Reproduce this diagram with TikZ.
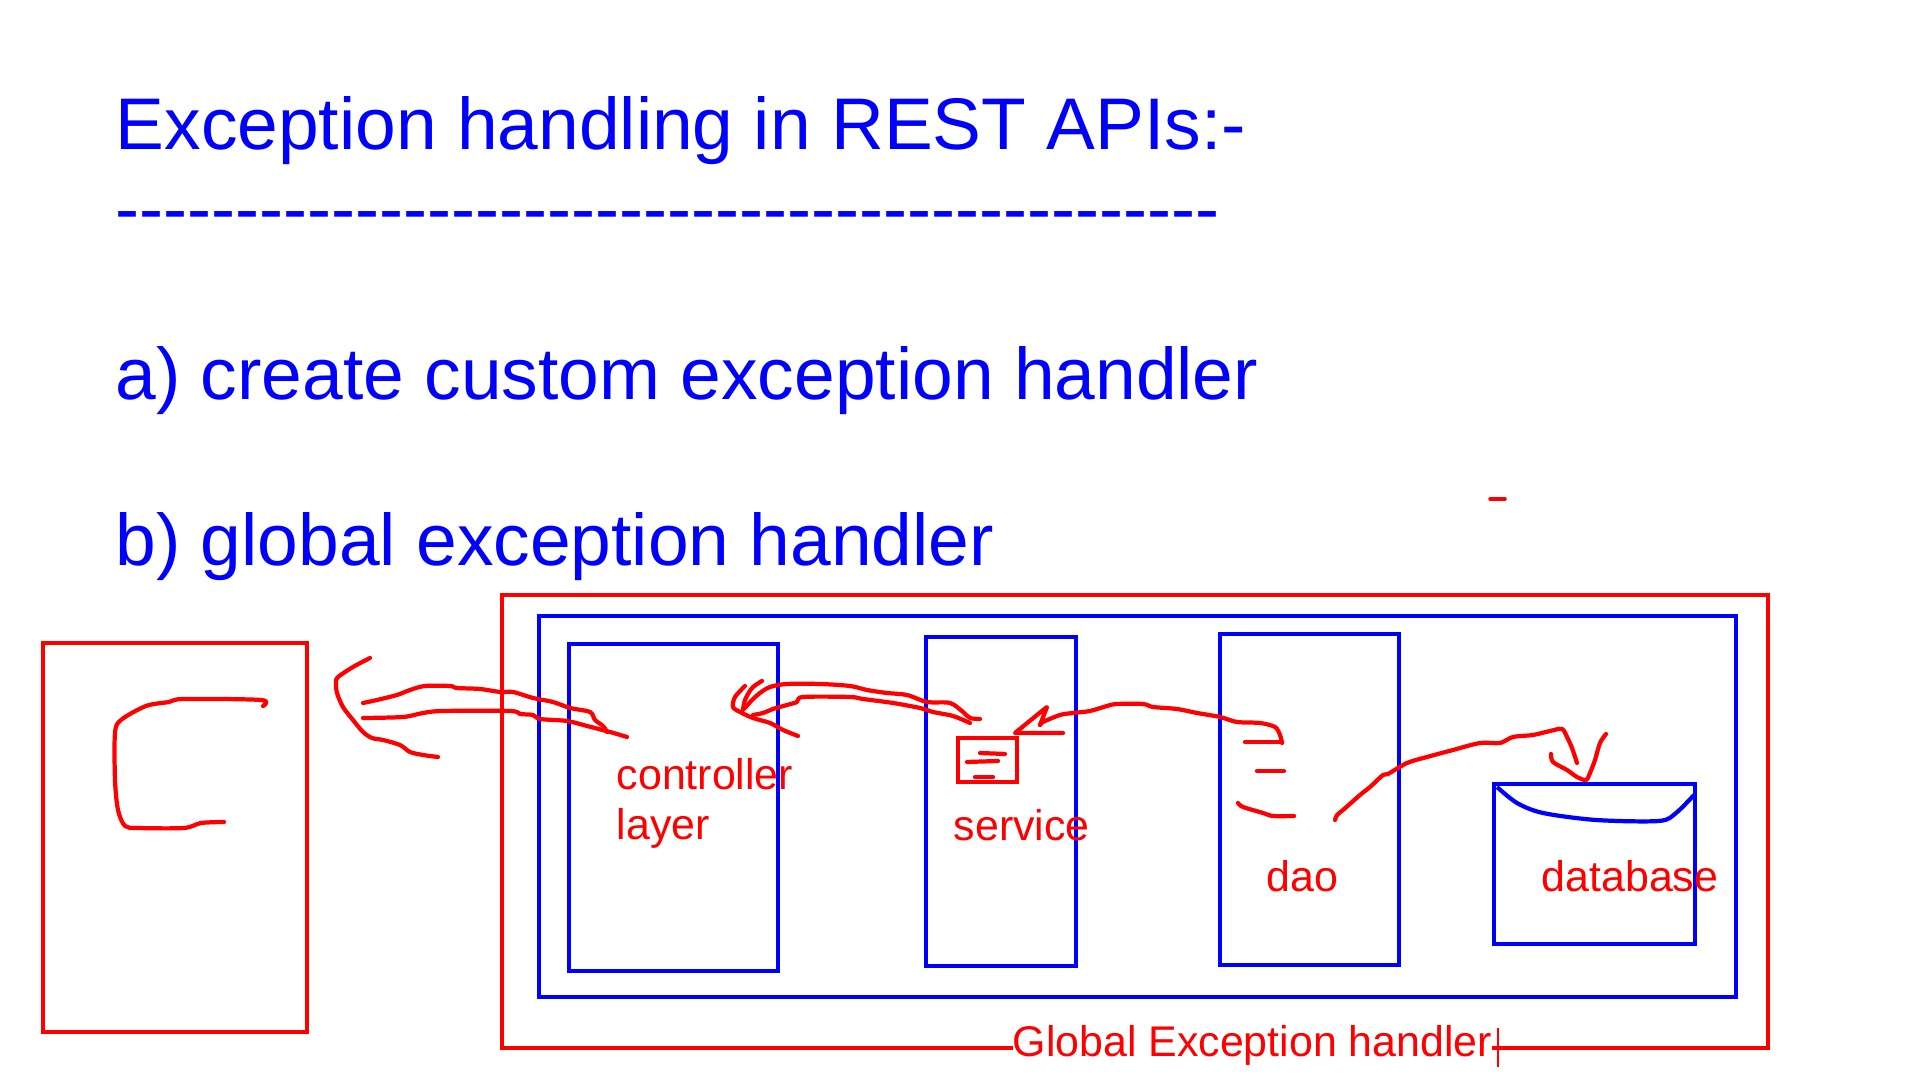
\documentclass[tikz,border=0pt]{standalone}
\usepackage{fontspec}
\setmainfont{Liberation Sans}

\newcommand\hyph{-\kern0pt}
\tikzset{
  heading/.style={text=blue,anchor=base west,inner sep=0pt,font=\fontsize{20.8}{25}\selectfont},
  lbl/.style={text=red,anchor=base west,inner sep=0pt,font=\fontsize{12.2}{14.5}\selectfont},
  layerbox/.style={draw=blue,line width=1.2pt},
  redbox/.style={draw=red,line width=1.2pt},
  scribble/.style={draw=red,line width=1.2pt,line join=round,line cap=round}
}

\begin{document}
\begin{tikzpicture}[x=0.01cm,y=-0.01cm]
\useasboundingbox (0,0) rectangle (1920,1080);
% ---------- headings ----------
\node[heading] (title) at (115,150) {Exception handling in REST APIs:-};
\node[heading,font=\fontsize{20.5}{25}\selectfont] (rule) at (115,234) {\foreach \i in {1,...,46}{\hyph}};
\node[heading] (itema) at (115,400) {a) create custom exception handler};
\node[heading] (itemb) at (115,566) {b) global exception handler};
\draw[scribble,line width=1pt] (1490,499) -- (1505,499);
% ---------- client box ----------
\draw[redbox] (43,643) rectangle (307,1032);
\draw[scribble] plot[smooth,tension=0.5] coordinates {(263,706) (261,700) (184,699) (169,702) (146,706) (121,720) (115,733) (115,780) (118,810) (125,826) (138,828) (184,828) (201,823) (224,822)};
% ---------- global handler and layers ----------
\draw[redbox] (502,595) rectangle (1768,1048);
\draw[layerbox] (539,616) rectangle (1736,997);
\draw[layerbox] (569,644) rectangle (778,971);
\draw[layerbox] (926,637) rectangle (1076,966);
\draw[layerbox] (1220,634) rectangle (1399,965);
\draw[layerbox] (1494,784) rectangle (1695,944);
\draw[layerbox,line join=round] plot[smooth,tension=0.5] coordinates {(1497,787) (1517,803) (1543,813) (1596,820) (1659,821) (1676,813) (1694,795)};
% small exception box in service
\draw[redbox] (958,738) rectangle (1017,782);
\draw[scribble] (980,753) -- (1005,754);
\draw[scribble] (967,762) -- (998,761);
\draw[scribble] (975,777) -- (993,777);
% ---------- labels ----------
\node[lbl] (ctrl) at (616,790) {controller};
\node[lbl] (layer) at (616,840) {layer};
\node[lbl] (serv) at (953,841) {service};
\node[lbl] (dao) at (1266,892) {dao};
\node[lbl] (db) at (1541,892) {database};
\node[lbl,fill=white] (global) at (1012,1057) {Global Exception handler};
\draw[red,line width=0.6pt] (1498,1028) -- (1498,1067);
% ---------- controller -> client ----------
\draw[scribble] plot[smooth,tension=0.5] coordinates {(363,703) (377,700) (397,695) (410,690) (425,686) (450,686) (457,688) (480,689) (500,692) (513,692) (533,698) (553,702) (570,708) (590,712) (595,720) (603,726) (607,732)};
\draw[scribble] plot[smooth,tension=0.5] coordinates {(363,718) (403,717) (423,713) (443,711) (510,711) (520,714) (533,715) (540,719) (567,721) (587,726) (610,732) (627,737)};
\draw[scribble] plot[smooth,tension=0.5] coordinates {(370,658) (353,667) (338,677) (336,682) (337,693) (343,707) (353,720) (363,732) (372,738) (383,740) (400,745) (410,752) (423,755) (438,757)};
% ---------- service -> controller ----------
\draw[scribble] plot[smooth,tension=0.5] coordinates {(980,719) (970,718) (963,712) (950,703) (927,702) (907,695) (887,693) (867,690) (850,686) (820,684) (787,684) (770,687) (760,693) (752,700) (745,708)};
\draw[scribble] plot[smooth,tension=0.5] coordinates {(970,723) (953,716) (933,712) (920,708) (893,703) (863,699) (850,697) (803,697) (797,702) (787,705) (773,709) (763,713) (753,715)};
\draw[scribble] plot[smooth,tension=0.5] coordinates {(745,686) (735,697) (733,707) (740,712) (753,718) (770,723) (783,730) (798,736)};
\draw[scribble] plot[smooth,tension=0.5] coordinates {(762,681) (752,688) (745,700) (743,710)};
% ---------- dao -> service ----------
\draw[scribble] plot[smooth,tension=0.5] coordinates {(1282,743) (1280,735) (1275,727) (1260,723) (1237,722) (1220,717) (1197,713) (1177,709) (1153,707) (1143,704) (1117,704) (1107,706) (1090,711) (1073,713) (1060,715) (1043,722) (1040,725)};
\draw[scribble] (1040,725) -- (1047,707) -- (1037,715) -- (1015,733) -- (1063,733);
\draw[scribble] (1245,742) -- (1282,742);
\draw[scribble] (1257,771) -- (1284,771);
\draw[scribble] plot[smooth,tension=0.5] coordinates {(1238,803) (1243,807) (1263,813) (1273,816) (1294,816)};
% ---------- dao -> database ----------
\draw[scribble] plot[smooth,tension=0.5] coordinates {(1335,820) (1337,815) (1343,810) (1360,795) (1370,787) (1383,775) (1388,774) (1407,763) (1427,757) (1453,750) (1480,743) (1500,743) (1513,737) (1533,735) (1550,731) (1562,729) (1567,737) (1572,748) (1577,763)};
\draw[scribble] plot[smooth,tension=0.5] coordinates {(1551,754) (1553,762) (1567,770) (1577,777) (1586,780) (1590,773) (1595,760) (1600,743) (1606,734)};
\end{tikzpicture}
\end{document}
